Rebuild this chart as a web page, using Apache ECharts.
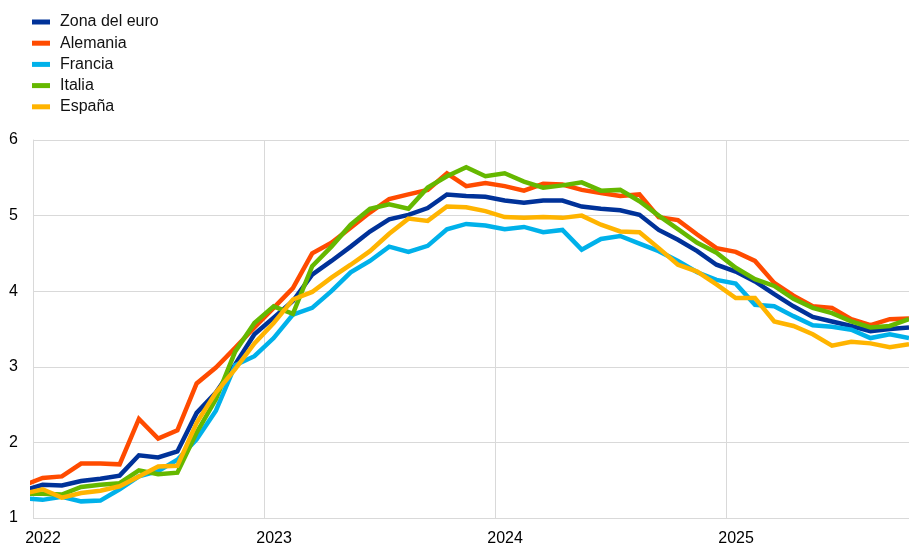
<!DOCTYPE html>
<html>
<head>
<meta charset="utf-8">
<script src="https://cdn.jsdelivr.net/npm/echarts@6/dist/echarts.min.js"></script>
<style>
  html, body { margin: 0; padding: 0; background: #fff; }
  #chart { width: 909px; height: 545px; }
</style>
</head>
<body>
<div id="chart"></div>
<script>
// months (first one sits just left of the axis and gets clipped)
const months = [
  '2021-12',
  '2022-01', '2022-02', '2022-03', '2022-04', '2022-05', '2022-06',
  '2022-07', '2022-08', '2022-09', '2022-10', '2022-11', '2022-12',
  '2023-01', '2023-02', '2023-03', '2023-04', '2023-05', '2023-06',
  '2023-07', '2023-08', '2023-09', '2023-10', '2023-11', '2023-12',
  '2024-01', '2024-02', '2024-03', '2024-04', '2024-05', '2024-06',
  '2024-07', '2024-08', '2024-09', '2024-10', '2024-11', '2024-12',
  '2025-01', '2025-02', '2025-03', '2025-04', '2025-05', '2025-06',
  '2025-07', '2025-08', '2025-09', '2025-10'
]

const seriesNames = ['Zona del euro', 'Alemania', 'Francia', 'Italia', 'España']
const seriesColors = ['#003299', '#ff4b00', '#00b1ea', '#65b800', '#ffb400']

const zonaEuro = [
  1.36,
  1.44, 1.43, 1.49, 1.52, 1.56, 1.83, 1.80, 1.88, 2.39, 2.66, 3.03, 3.43,
  3.65, 3.87, 4.22, 4.40, 4.59, 4.79, 4.95, 5.01, 5.10, 5.28, 5.26, 5.25,
  5.20, 5.17, 5.20, 5.20, 5.12, 5.09, 5.07, 5.01, 4.81, 4.68, 4.53, 4.35,
  4.26, 4.13, 3.96, 3.80, 3.66, 3.60, 3.54, 3.47, 3.50, 3.52
]
const alemania = [
  1.43,
  1.53, 1.55, 1.72, 1.72, 1.71, 2.31, 2.05, 2.16, 2.78, 2.99, 3.25, 3.52,
  3.78, 4.04, 4.50, 4.64, 4.84, 5.04, 5.22, 5.28, 5.34, 5.56, 5.39, 5.43,
  5.39, 5.33, 5.42, 5.41, 5.34, 5.30, 5.26, 5.28, 4.98, 4.94, 4.75, 4.57,
  4.52, 4.40, 4.11, 3.94, 3.80, 3.78, 3.63, 3.55, 3.63, 3.64
]
const francia = [
  1.26,
  1.24, 1.28, 1.22, 1.23, 1.38, 1.55, 1.62, 1.77, 2.04, 2.42, 3.02, 3.14,
  3.38, 3.69, 3.78, 4.00, 4.25, 4.40, 4.59, 4.52, 4.60, 4.82, 4.89, 4.87,
  4.82, 4.85, 4.78, 4.81, 4.55, 4.69, 4.73, 4.63, 4.53, 4.40, 4.25, 4.15,
  4.10, 3.82, 3.80, 3.67, 3.55, 3.53, 3.49, 3.38, 3.43, 3.38
]
const italia = [
  1.32,
  1.32, 1.31, 1.41, 1.44, 1.46, 1.63, 1.58, 1.60, 2.13, 2.57, 3.20, 3.58,
  3.80, 3.70, 4.33, 4.59, 4.88, 5.09, 5.15, 5.09, 5.37, 5.52, 5.64, 5.52,
  5.56, 5.45, 5.37, 5.40, 5.44, 5.33, 5.34, 5.19, 5.00, 4.82, 4.64, 4.51,
  4.31, 4.16, 4.07, 3.90, 3.78, 3.71, 3.60, 3.52, 3.54, 3.63
]
const espana = [
  1.32,
  1.38, 1.27, 1.33, 1.36, 1.42, 1.55, 1.68, 1.69, 2.26, 2.66, 2.97, 3.31,
  3.58, 3.89, 3.99, 4.18, 4.35, 4.53, 4.76, 4.96, 4.93, 5.12, 5.11, 5.06,
  4.98, 4.97, 4.98, 4.97, 5.00, 4.88, 4.79, 4.78, 4.57, 4.35, 4.26, 4.09,
  3.91, 3.91, 3.60, 3.54, 3.43, 3.28, 3.33, 3.31, 3.26, 3.30
]

const seriesData = [zonaEuro, alemania, francia, italia, espana]

// mid-month position on a decimal-year axis
const monthPos = (m) => {
  const [y, mm] = m.split('-').map(Number)
  return y + (mm - 0.5) / 12
}

const xMin = 2022
const xMax = monthPos(months[months.length - 1])

const font = "'Liberation Sans', Arial, sans-serif"
const gridColor = '#d9d9d9'

const chart = echarts.init(document.getElementById('chart'), null, { renderer: 'canvas' })

chart.setOption({
  backgroundColor: '#ffffff',
  animation: false,
  textStyle: { fontFamily: font },
  legend: {
    orient: 'vertical',
    left: 32,
    top: 14,
    padding: 0,
    itemWidth: 18,
    itemHeight: 5,
    itemGap: 5.2,
    icon: 'rect',
    textStyle: { fontSize: 16, color: '#111', fontFamily: font, padding: [0, 0, 0, 5] },
    data: seriesNames
  },
  grid: {
    left: 33,
    right: 0,
    top: 140,
    bottom: 27,
    containLabel: false,
    outerBoundsMode: 'none'
  },
  xAxis: {
    type: 'value',
    min: xMin,
    max: xMax,
    interval: 1,
    axisLine: { show: false },
    axisTick: { show: false },
    splitLine: { show: true, lineStyle: { color: gridColor, width: 1 } },
    axisLabel: {
      fontSize: 16,
      color: '#000',
      margin: 13,
      padding: [0, 0, 0, 20],
      showMaxLabel: false,
      formatter: (v) => (Number.isInteger(v) ? String(v) : '')
    }
  },
  yAxis: {
    type: 'value',
    min: 1,
    max: 6,
    interval: 1,
    axisLine: { show: true, lineStyle: { color: gridColor, width: 1 } },
    axisTick: { show: false },
    splitLine: { show: true, lineStyle: { color: gridColor, width: 1 } },
    axisLabel: { fontSize: 16, color: '#000', margin: 15 }
  },
  series: seriesNames.map((name, i) => ({
    name: name,
    type: 'line',
    symbol: 'none',
    clip: true,
    color: seriesColors[i],
    lineStyle: { width: 4.5, color: seriesColors[i], join: 'miter' },
    data: months.map((m, j) => [monthPos(m), seriesData[i][j]])
  }))
})
</script>
</body>
</html>
